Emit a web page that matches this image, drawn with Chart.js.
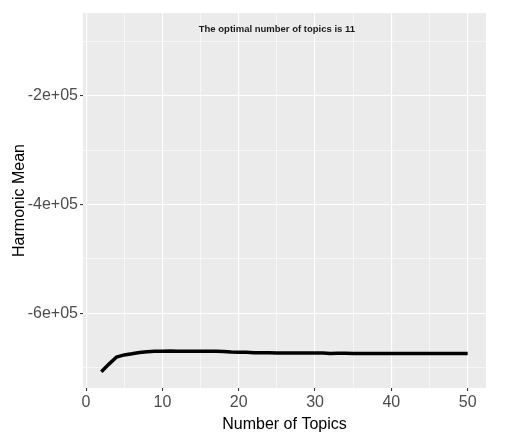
<!DOCTYPE html>
<html>
<head>
<meta charset="utf-8">
<script src="https://cdn.jsdelivr.net/npm/chart.js@4.4.1/dist/chart.umd.min.js"></script>
<style>
  html, body { margin: 0; padding: 0; background: #ffffff; }
  #wrap { width: 505px; height: 437px; }
</style>
</head>
<body>
<div id="wrap"><canvas id="topicsChart" width="505" height="437"></canvas></div>
<script>
// number of topics tried and the harmonic mean of the log-likelihood for each
const topics = [2, 3, 4, 5, 6, 7, 8, 9, 10, 11, 12, 13, 14, 15, 16, 17, 18, 19, 20,
  21, 22, 23, 24, 25, 26, 27, 28, 29, 30, 31, 32, 33, 34, 35, 36, 37, 38, 39, 40,
  41, 42, 43, 44, 45, 46, 47, 48, 49, 50];
const harmonicMean = [-708000, -694000, -681000, -677000, -675000, -672500, -671000,
  -670500, -670200, -670000, -670200, -670300, -670400, -670400, -670500, -670500,
  -670600, -671500, -672000, -672200, -673000, -673200, -673200, -673300, -673300,
  -673400, -673400, -673500, -673500, -673600, -674500, -674000, -674000, -674300,
  -674300, -674300, -674300, -674300, -674300, -674300, -674300, -674300, -674300,
  -674300, -674300, -674300, -674300, -674300, -674300];
// grid positions (major ones get a label and a tick mark)
const xGrid = [0, 5, 10, 15, 20, 25, 30, 35, 40, 45, 50];
const xTicksMajor = [0, 10, 20, 30, 40, 50];
const yGrid = [-700000, -600000, -500000, -400000, -300000, -200000, -100000];
const yTicksMajor = [-600000, -400000, -200000];
const yLabels = ['-6e+05', '-4e+05', '-2e+05'];
const noteText = 'The optimal number of topics is 11';
const noteAt = { x: 25, y: -77000 };

const points = topics.map((k, i) => ({ x: k, y: harmonicMean[i] }));
const FONT = "'Liberation Sans', Arial, sans-serif";

// grey ggplot-style panel behind the plot
const panelBg = {
  id: 'panelBg',
  beforeDraw(chart) {
    const { ctx, chartArea: a } = chart;
    ctx.save();
    ctx.fillStyle = '#ffffff';
    ctx.fillRect(0, 0, chart.width, chart.height);
    ctx.fillStyle = '#EBEBEB';
    ctx.fillRect(a.left, a.top, a.right - a.left, a.bottom - a.top);
    ctx.restore();
  }
};

// text label placed inside the panel
const noteLabel = {
  id: 'noteLabel',
  afterDatasetsDraw(chart) {
    const { ctx, scales } = chart;
    ctx.save();
    ctx.font = 'bold 9.5px ' + FONT;
    ctx.fillStyle = '#1a1a1a';
    ctx.textAlign = 'center';
    ctx.textBaseline = 'middle';
    ctx.fillText(noteText, scales.x.getPixelForValue(noteAt.x), scales.y.getPixelForValue(noteAt.y));
    ctx.restore();
  }
};

const isMajorX = v => xTicksMajor.includes(v);
const isMajorY = v => yTicksMajor.includes(v);

new Chart(document.getElementById('topicsChart'), {
  type: 'line',
  data: {
    datasets: [{
      data: points,
      borderColor: '#000000',
      borderWidth: 3.5,
      pointRadius: 0,
      tension: 0,
      fill: false
    }]
  },
  options: {
    responsive: false,
    animation: false,
    layout: { padding: { top: 13, right: 19, left: 0, bottom: 0 } },
    plugins: { legend: { display: false }, tooltip: { enabled: false } },
    scales: {
      x: {
        type: 'linear',
        min: -0.4,
        max: 52.4,
        afterBuildTicks: s => { s.ticks = xGrid.map(v => ({ value: v })); },
        afterFit: s => { s.height = 49; },
        border: { display: false },
        grid: {
          color: '#ffffff',
          lineWidth: c => isMajorX(c.tick.value) ? 1.1 : 0.55,
          tickColor: c => isMajorX(c.tick.value) ? '#333333' : 'rgba(0,0,0,0)',
          tickLength: 3
        },
        ticks: {
          maxRotation: 0,
          autoSkip: false,
          padding: 2,
          color: '#4D4D4D',
          font: { family: FONT, size: 16 },
          callback: v => isMajorX(v) ? String(v) : ''
        },
        title: {
          display: true,
          text: 'Number of Topics',
          color: '#000000',
          font: { family: FONT, size: 16 },
          padding: { top: 0, bottom: 3 }
        }
      },
      y: {
        type: 'linear',
        min: -738000,
        max: -47000,
        afterBuildTicks: s => { s.ticks = yGrid.map(v => ({ value: v })); },
        afterFit: s => { s.width = 83; },
        border: { display: false },
        grid: {
          color: '#ffffff',
          lineWidth: c => isMajorY(c.tick.value) ? 1.1 : 0.55,
          tickColor: c => isMajorY(c.tick.value) ? '#333333' : 'rgba(0,0,0,0)',
          tickLength: 3
        },
        ticks: {
          autoSkip: false,
          padding: 2,
          color: '#4D4D4D',
          font: { family: FONT, size: 16 },
          callback: v => isMajorY(v) ? yLabels[yTicksMajor.indexOf(v)] : ''
        },
        title: {
          display: true,
          text: 'Harmonic Mean',
          color: '#000000',
          font: { family: FONT, size: 16 },
          padding: { top: 10, bottom: 0 }
        }
      }
    }
  },
  plugins: [panelBg, noteLabel]
});
</script>
</body>
</html>
